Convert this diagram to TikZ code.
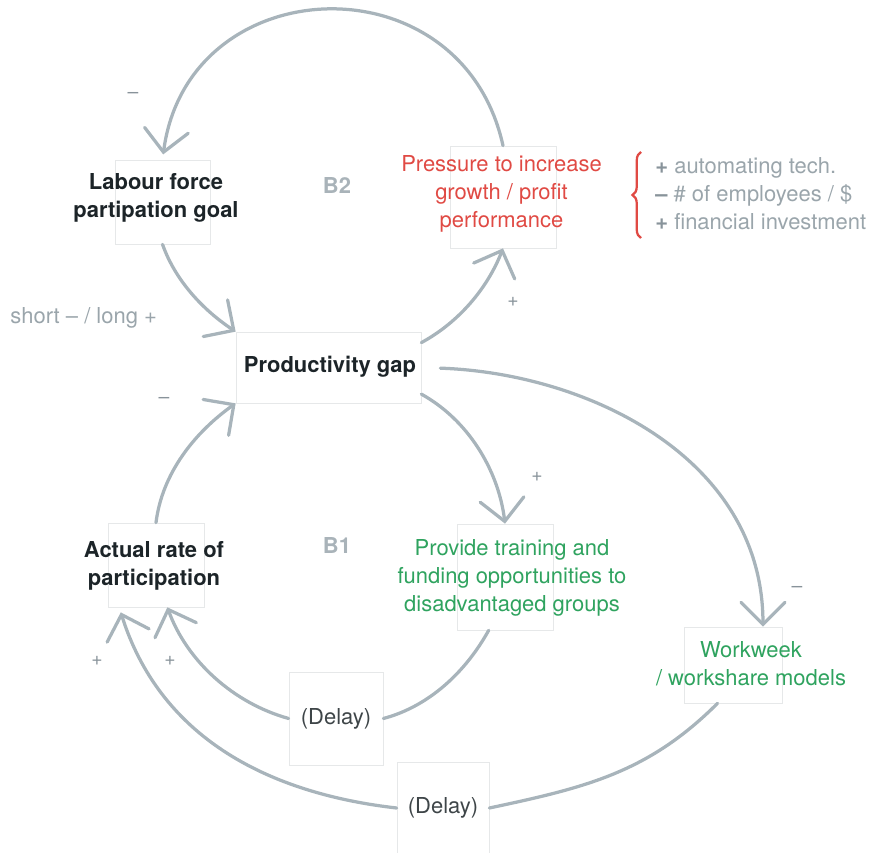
\documentclass[tikz,border=0pt]{standalone}
\usepackage{fontspec}
\setmainfont{TeX Gyre Heros}
\usetikzlibrary{arrows.meta,decorations.pathreplacing}

\definecolor{inkdark}{HTML}{1C2428}
\definecolor{inkred}{HTML}{E04A44}
\definecolor{inkgreen}{HTML}{2FA35F}
\definecolor{inkgray}{HTML}{9AA5AB}
\definecolor{loopgray}{HTML}{A9B3B9}
\definecolor{signgray}{HTML}{88939A}
\definecolor{linkgray}{HTML}{A8B4BB}
\definecolor{boxline}{HTML}{E6E8E9}

\begin{document}
\begin{tikzpicture}[x=0.02cm,y=0.02cm,
  every node/.style={font=\fontsize{12.5}{15.9}\selectfont},
  varbox/.style={draw=boxline,line width=0.4pt,inner sep=0pt},
  vartext/.style={align=center,inner sep=0pt},
  keyvar/.style={vartext,text=inkdark,font=\fontsize{12.5}{15.9}\selectfont\bfseries},
  redvar/.style={vartext,text=inkred},
  greenvar/.style={vartext,text=inkgreen},
  delaytext/.style={vartext,text=inkdark!85},
  looplabel/.style={text=loopgray,font=\fontsize{12.5}{15.9}\selectfont\bfseries},
  sign/.style={text=signgray,font=\fontsize{11}{13}\selectfont},
  note/.style={text=inkgray,inner sep=0pt},
  link/.style={draw=linkgray,line width=0.065cm,line cap=round},
  linkarrow/.style={link,-{Straight Barb[length=0.44cm,width=0.88cm,line cap=round]}},
]
\useasboundingbox (0,0) rectangle (871,852);

% variable boxes
\node[varbox,minimum width=1.9cm,minimum height=1.68cm]  (labour)   at (162.5,650) {};
\node[varbox,minimum width=2.12cm,minimum height=2.04cm] (pressure) at (503,655) {};
\node[varbox,minimum width=3.7cm,minimum height=1.42cm]  (prod)     at (328.5,484.5) {};
\node[varbox,minimum width=1.92cm,minimum height=1.68cm] (actual)   at (156,287) {};
\node[varbox,minimum width=1.92cm,minimum height=2.12cm] (provide)  at (505,275) {};
\node[varbox,minimum width=1.96cm,minimum height=1.52cm] (workweek) at (733,187) {};
\node[varbox,minimum width=1.88cm,minimum height=1.86cm] (delayA)   at (336,133.5) {};
\node[varbox,minimum width=1.84cm,minimum height=1.84cm] (delayB)   at (443,44) {};

% variable texts
\node[keyvar]   (labourT)   at (156,654) {Labour force\\partipation goal};
\node[redvar]   (pressureT) at (501.5,658) {Pressure to increase\\growth / profit\\performance};
\node[keyvar]   (prodT)     at (330,485) {Productivity gap};
\node[keyvar]   (actualT)   at (154,286) {Actual rate of\\participation};
\node[greenvar] (provideT)  at (512,274) {Provide training and\\funding opportunities to\\disadvantaged groups};
\node[greenvar] (workweekT) at (751,188) {Workweek\\/ workshare models};
\node[delaytext] (delayAT)  at (336,133) {(Delay)};
\node[delaytext] (delayBT)  at (443,44) {(Delay)};

% loop labels
\node[looplabel] (b2) at (337,666) {B2};
\node[looplabel] (b1) at (337,307) {B1};

% side notes
\node[note,anchor=west] (shortlong) at (10,534) {short -- / long +};
\node[note,anchor=west,align=left] (levers) at (655,658)
  {{\color{signgray}\textbf{+}} automating tech.\\
   {\color{signgray}\textbf{--}} \# of employees / \$\\
   {\color{signgray}\textbf{+}} financial investment};
\coordinate (braceBot) at (641,614);
\coordinate (braceTop) at (641,700);
\draw[inkred,line width=0.045cm,decorate,decoration={brace,amplitude=0.17cm}]
  (braceBot) -- (braceTop);

% B2 loop
\draw[linkarrow,shorten >=3pt] (pressure.north) to[out=102.4,in=82.4,looseness=1.45] (labour.north);
\draw[linkarrow] (labour.south) to[out=-70.5,in=146.4,looseness=0.87] (prod.north west);
\draw[linkarrow] (prod.15) to[out=28.4,in=248.8,looseness=0.875] (pressure.south);

% B1 loop
\draw[linkarrow] (actual.north) to[out=83,in=215.4,looseness=0.89] (prod.south west);
\draw[linkarrow] (prod.-16) to[out=-29,in=97,looseness=0.89] (provide.north);
\draw[link] (provide.253) to[out=241,in=14.8,looseness=0.885] (delayA.east);
\draw[linkarrow] (delayA.west) to[out=164.5,in=290,looseness=0.89] (actual.-75);

% outer loop through the workweek models
\draw[linkarrow,shorten <=19*0.02cm] (prod.east) to[out=-2,in=90] (workweek.52);
\draw[link] (workweek.248) to[out=225,in=12] (delayB.east);
\draw[linkarrow,shorten >=3pt] (delayB.west) to[out=173.5,in=-72.5] (actual.229);

% polarity signs
\node[sign] (s1) at (133,757) {--};
\node[sign] (s2) at (513,550) {+};
\node[sign] (s3) at (164,452) {--};
\node[sign] (s4) at (537,375) {+};
\node[sign] (s5) at (797,263) {--};
\node[sign] (s6) at (97,191) {+};
\node[sign] (s7) at (170,191) {+};
\end{tikzpicture}
\end{document}
